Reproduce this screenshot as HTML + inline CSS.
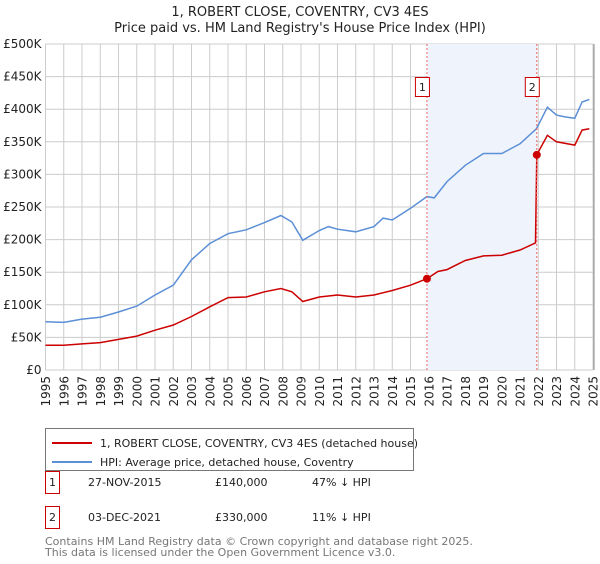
<!DOCTYPE html>
<html><head><meta charset="utf-8"><style>
body{margin:0;background:#fff;width:600px;height:560px;overflow:hidden;font-family:"DejaVu Sans","Liberation Sans",sans-serif;}
</style></head><body>
<svg width="600" height="560" xmlns="http://www.w3.org/2000/svg" font-family="DejaVu Sans, Liberation Sans, sans-serif">
<g id="title">
<text x="300" y="16" text-anchor="middle" font-size="13" fill="#222">1, ROBERT CLOSE, COVENTRY, CV3 4ES</text>
<text x="300" y="32" text-anchor="middle" font-size="13" fill="#222">Price paid vs. HM Land Registry's House Price Index (HPI)</text>
</g>
<g id="grid"></g>
<g id="shade"></g>
<g id="series"></g>
<g id="axes"></g>
<g>
<rect x="45.5" y="428.5" width="368" height="42" fill="#fff" stroke="#777"/>
<line x1="52" y1="443" x2="92" y2="443" stroke="#cc0000" stroke-width="2"/>
<text x="100" y="447" font-size="11" fill="#222">1, ROBERT CLOSE, COVENTRY, CV3 4ES (detached house)</text>
<line x1="52" y1="462" x2="92" y2="462" stroke="#5b8fd6" stroke-width="2"/>
<text x="100" y="466" font-size="11" fill="#222">HPI: Average price, detached house, Coventry</text>
</g>
<g font-size="11" fill="#222">
<rect x="45.5" y="471.5" width="14" height="22" fill="#fff" stroke="#cc0000"/>
<text x="52.5" y="486" text-anchor="middle">1</text>
<text x="88" y="486">27-NOV-2015</text><text x="215" y="486">£140,000</text><text x="312" y="486">47% ↓ HPI</text>
<rect x="45.5" y="506.5" width="14" height="22" fill="#fff" stroke="#cc0000"/>
<text x="52.5" y="521" text-anchor="middle">2</text>
<text x="88" y="521">03-DEC-2021</text><text x="215" y="521">£330,000</text><text x="312" y="521">11% ↓ HPI</text>
</g>
<g font-size="11" fill="#777">
<text x="45" y="545">Contains HM Land Registry data © Crown copyright and database right 2025.</text>
<text x="45" y="556">This data is licensed under the Open Government Licence v3.0.</text>
</g>
</svg>
<script>
const hpiYears=[1995,1996,1997,1998,1999,2000,2001,2002,2003,2004,2005,2006,2007,2007.9,2008.5,2009.1,2010,2010.5,2011,2012,2013,2013.5,2014,2015,2015.9,2016.3,2017,2018,2019,2020,2021,2021.9,2022.5,2023,2023.5,2024,2024.4,2024.8];
const hpiValues=[74,73,78,81,89,98,115,130,169,194,209,215,226,237,227,199,214,220,216,212,220,233,230,248,266,264,289,314,332,332,347,370,403,391,388,386,411,415];
const ppYears=[1995,1996,1997,1998,1999,2000,2001,2002,2003,2004,2005,2006,2007,2007.9,2008.5,2009.1,2010,2011,2012,2013,2014,2015,2015.9,2016.5,2017,2018,2019,2020,2021,2021.85,2021.92,2022.5,2023,2024,2024.4,2024.8];
const ppValues=[38,38,40,42,47,52,61,69,82,97,111,112,120,125,120,105,112,115,112,115,122,130,140,151,154,168,175,176,184,195,330,360,350,345,368,370];
const saleYears=[2015.9,2021.92];
const saleValues=[140,330];
const yTicks=[0,50,100,150,200,250,300,350,400,450,500];
const yTickLabels=["£0","£50K","£100K","£150K","£200K","£250K","£300K","£350K","£400K","£450K","£500K"];
const xTicks=[1995,1996,1997,1998,1999,2000,2001,2002,2003,2004,2005,2006,2007,2008,2009,2010,2011,2012,2013,2014,2015,2016,2017,2018,2019,2020,2021,2022,2023,2024,2025];
const X0=45.5,X1=593,Y0=370,Y1=44;
const xs=y=>X0+(y-1995)/30*(X1-X0);
const ys=v=>Y0-v/500*(Y0-Y1);
const NS="http://www.w3.org/2000/svg";
function mk(parent,tag,attrs){const e=document.createElementNS(NS,tag);for(const k in attrs)e.setAttribute(k,attrs[k]);parent.appendChild(e);return e;}
const grid=document.getElementById('grid'),axes=document.getElementById('axes'),series=document.getElementById('series'),shade=document.getElementById('shade');
yTicks.forEach((t,i)=>{
 const l=mk(grid,'line',{x1:X0,x2:X1,y1:ys(t),y2:ys(t),stroke:'#cccccc'});
 
 
 const tx=mk(axes,'text',{x:X0-4,y:ys(t)+4,'text-anchor':'end','font-size':'12',fill:'#222'});
 tx.textContent=yTickLabels[i];
 
 
});
xTicks.forEach(t=>{
 const l=mk(grid,'line',{x1:xs(t),x2:xs(t),y1:Y1,y2:Y0,stroke:'#cccccc'});
 
 
 const tx=mk(axes,'text',{x:0,y:0,'text-anchor':'end','font-size':'12',fill:'#222',transform:`translate(${xs(t)+4.5},376) rotate(-90)`});
 tx.textContent=t;
 
 
});
const band=mk(shade,'rect',{x:xs(saleYears[0]),y:Y1,width:xs(saleYears[1])-xs(saleYears[0]),height:Y0-Y1,fill:'#eef3fc'});


const pts=(a,b)=>a.map((y,i)=>xs(y).toFixed(1)+','+ys(b[i]).toFixed(1)).join(' ');
const hl=mk(series,'polyline',{points:pts(hpiYears,hpiValues),fill:'none',stroke:'#5b8fd6','stroke-width':1.5});


const pl=mk(series,'polyline',{points:pts(ppYears,ppValues),fill:'none',stroke:'#cc0000','stroke-width':1.5});


saleYears.forEach((y,i)=>{
 const v=mk(series,'line',{x1:xs(y),x2:xs(y),y1:Y1,y2:Y0,stroke:'#ee6666','stroke-dasharray':'2,2'});
 
 
 const c=mk(series,'circle',{cx:xs(y),cy:ys(saleValues[i]),r:4,fill:'#cc0000'});
 
 
 const b=mk(series,'rect',{x:xs(y)-11.5,y:77.5,width:14,height:19,fill:'#fff',stroke:'#cc0000'});
 
 
 const t=mk(series,'text',{x:xs(y)-4.5,y:91,'text-anchor':'middle','font-size':'11',fill:'#222'});
 t.textContent=String(i+1);
 
 
});
const ax=mk(axes,'line',{x1:X1+1,x2:X1+1,y1:Y1,y2:Y0,stroke:'#888'});


</script>
</body></html>
